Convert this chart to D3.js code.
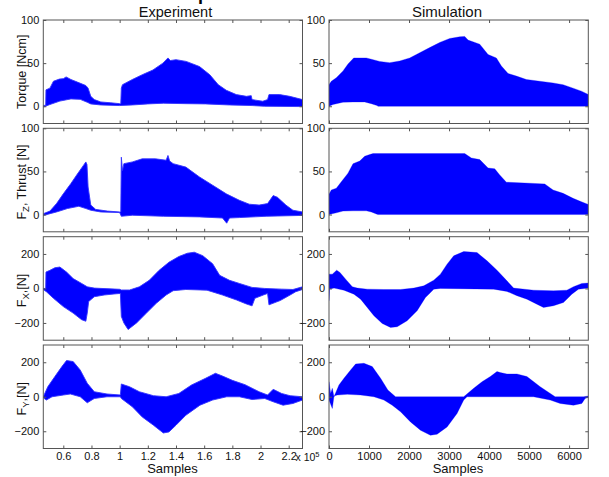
<!DOCTYPE html>
<html>
<head>
<meta charset="utf-8">
<script src="https://cdn.jsdelivr.net/npm/d3@7"></script>
<style>
  body { margin: 0; background: #fff; }
  svg { display: block; }
</style>
</head>
<body>
<script>
// envelope readings, [sample, value]; experiment samples are in units of 1e5

var torqueExpHi = [[0.458,1],[0.475,1],[0.477,19],[0.505,21],[0.53,29],[0.572,31.5],[0.60,32],[0.62,34],[0.654,31],[0.70,28],[0.76,24],[0.776,21],[0.795,11.5],[0.82,7.7],[0.866,5],[0.937,4],[1.0,3],[1.008,3],[1.012,21],[1.02,25],[1.09,31],[1.16,36.5],[1.236,42],[1.307,50],[1.343,56],[1.36,53],[1.40,54],[1.472,52],[1.52,49],[1.567,46],[1.64,36.5],[1.70,25],[1.757,18.5],[1.828,13.5],[1.90,11.5],[1.934,12.3],[1.94,7.7],[2.016,5.8],[2.05,7.7],[2.06,13.5],[2.136,13.5],[2.207,11.5],[2.298,7.7]];
var torqueExpLo = [[0.458,-1],[0.505,2],[0.576,6],[0.654,8.5],[0.72,8],[0.77,4.6],[0.795,2.7],[0.866,1.5],[1.0,0.8],[1.09,1.5],[1.2,2.7],[1.31,3.5],[1.47,3],[1.61,2.7],[1.78,1.5],[1.94,0.8],[2.03,0],[2.298,-0.4]];

var thrustExpHi = [[0.458,1],[0.505,4],[0.552,12.7],[0.60,24],[0.654,36],[0.70,47],[0.743,57],[0.76,61],[0.768,58],[0.776,32],[0.795,11],[0.83,6],[0.913,4],[1.0,3],[1.008,3],[1.012,66.5],[1.02,51],[1.03,59],[1.09,61],[1.16,64.6],[1.254,64.6],[1.33,63],[1.343,68.5],[1.355,62],[1.38,59],[1.47,55],[1.567,43.5],[1.66,34],[1.757,24],[1.85,16.5],[1.92,12],[1.99,11],[2.05,12.7],[2.09,22],[2.12,20],[2.18,11],[2.23,5],[2.298,3]];
var thrustExpLo = [[0.458,-1],[0.552,3],[0.63,7],[0.71,9.6],[0.76,7],[0.795,5],[0.866,3],[1.0,2.3],[1.012,-2],[1.09,-0.8],[1.31,-2],[1.567,-2.7],[1.73,-4],[1.76,-10],[1.78,-4],[1.85,-3.5],[2.04,-2],[2.298,-1]];

var fxExpHi = [[0.458,0],[0.475,0],[0.477,95],[0.505,105],[0.54,120],[0.576,124],[0.623,95],[0.67,57],[0.73,29],[0.77,9.5],[0.82,2],[1.0,-5],[1.012,-9],[1.07,-9],[1.14,9.5],[1.21,47],[1.28,105],[1.35,152],[1.42,185],[1.48,204],[1.53,210],[1.59,190],[1.66,143],[1.71,76],[1.78,47],[1.85,29],[1.94,6],[2.03,0],[2.15,-4],[2.23,-6],[2.298,9.5]];
var fxExpLo = [[0.458,-6],[0.48,-19],[0.53,-57],[0.60,-105],[0.67,-143],[0.73,-181],[0.76,-190],[0.77,-143],[0.78,-76],[0.82,-48],[0.89,-38],[0.96,-32],[1.005,-29],[1.012,-162],[1.03,-200],[1.06,-238],[1.12,-200],[1.19,-143],[1.26,-86],[1.33,-38],[1.38,-13],[1.47,-6],[1.62,-10],[1.73,-38],[1.83,-67],[1.90,-90],[1.94,-101],[1.96,-57],[2.02,-38],[2.05,-29],[2.06,-95],[2.14,-70],[2.21,-38],[2.25,-19],[2.298,-6]];

var fyExpHi = [[0.458,0],[0.49,58],[0.54,117],[0.59,175],[0.623,210],[0.67,204],[0.72,155],[0.77,78],[0.82,29],[0.91,16],[1.005,10],[1.012,74],[1.07,58],[1.14,29],[1.24,6],[1.33,0],[1.42,19],[1.51,68],[1.61,107],[1.68,136],[1.73,120],[1.80,95],[1.89,70],[1.99,29],[2.05,10],[2.09,43],[2.15,19],[2.21,6],[2.298,0]];
var fyExpLo = [[0.458,-6],[0.48,-19],[0.52,0],[0.60,10],[0.65,16],[0.72,0],[0.77,-35],[0.82,-10],[0.91,0],[1.005,0],[1.012,-10],[1.09,-58],[1.16,-117],[1.24,-165],[1.31,-210],[1.35,-204],[1.40,-165],[1.47,-107],[1.57,-49],[1.66,-19],[1.76,0],[1.85,0],[1.94,-16],[2.03,-10],[2.09,-29],[2.16,-49],[2.23,-39],[2.298,-19]];

var torqueSimHi = [[0,25],[58,29],[183,33],[350,41],[475,49],[617,56],[767,56],[933,56],[1058,54.5],[1267,52],[1517,50.5],[1767,52.5],[2017,56],[2267,62],[2517,68],[2767,74],[3017,78.6],[3267,80.5],[3392,81],[3475,76.7],[3767,72],[3975,60],[4183,56],[4308,46.7],[4475,38],[4683,35],[4933,31],[5267,29],[5600,27],[5850,25],[6100,21],[6308,17.5],[6480,13.6]];
var torqueSimLo = [[0,0],[100,2],[350,4.7],[600,5],[892,5],[1058,3],[1200,0.8],[1225,0],[6480,0]];

var thrustSimHi = [[0,23.4],[58,28.5],[183,30.5],[308,38],[475,48],[600,59],[767,62],[892,67.6],[1017,69.5],[1100,70.7],[3392,70.7],[3558,65.6],[3767,63.7],[3975,54],[4142,53],[4267,46],[4433,37.5],[5017,36.3],[5392,35.5],[5600,28.5],[5850,24.6],[6100,18.8],[6308,14.8],[6480,11.7]];
var thrustSimLo = [[0,0],[183,2],[350,4],[600,4.3],[933,4.3],[1058,3],[1200,0.4],[1225,0],[6480,0]];

var fxSimHi = [[0,83],[83,83],[191,106],[274,93],[416,54],[582,10],[707,2],[956,-4],[1372,-6],[1787,-6],[2120,2],[2369,15],[2618,48],[2785,83],[2951,141],[3117,189],[3367,214],[3699,208],[3949,160],[4198,106],[4447,44],[4613,2],[5112,-10],[5611,-14],[5943,-10],[6110,10],[6318,29],[6480,31]];
var fxSimLo = [[0,-71],[15,-4],[125,2],[374,-10],[623,-33],[790,-62],[956,-110],[1122,-158],[1330,-203],[1538,-226],[1704,-222],[1953,-187],[2203,-129],[2411,-52],[2494,-33],[2618,-4],[2785,0],[4115,-4],[4447,-17],[4697,-42],[4946,-62],[5195,-91],[5361,-110],[5611,-100],[5860,-81],[6068,-33],[6234,-4],[6480,2]];

var fySimHi = [[0,87],[42,19],[83,49],[125,0],[249,68],[374,107],[540,155],[665,190],[873,194],[1081,175],[1289,107],[1471,39],[1663,0],[3367,0],[3616,49],[3824,87],[4032,117],[4198,146],[4281,140],[4447,132],[4697,132],[4946,117],[5278,58],[5652,0],[6359,0],[6480,4]];
var fySimLo = [[0,-19],[83,-68],[125,5],[208,10],[457,14],[790,10],[1122,0],[1372,-19],[1580,-49],[1788,-87],[2037,-146],[2286,-194],[2535,-223],[2701,-217],[2951,-175],[3200,-97],[3367,-19],[3450,0],[5112,0],[5528,-19],[5777,-39],[6110,-49],[6318,-39],[6400,-10],[6480,-4]];

var expTicks = [0.6, 0.8, 1, 1.2, 1.4, 1.6, 1.8, 2, 2.2];
var simTicks = [0, 1000, 2000, 3000, 4000, 5000, 6000];
var forceTicks = [-200, 0, 200];
var thrustTicks = [0, 50, 100];

var fontFam = "'Liberation Sans', Arial, Helvetica, sans-serif";
var blue = "#0000ff";
var axisColor = "#555";

var svg = d3.select("body").append("svg")
    .attr("width", 609)
    .attr("height", 477)
    .style("font-family", fontFam);

svg.append("rect").attr("width", 609).attr("height", 477).attr("fill", "#fff");

// columns and rows of the 4x2 grid
var cols = [
  { x0: 43.3, x1: 302.5, domain: [0.458, 2.298], ticks: expTicks, fmt: function(d){ return String(+d.toFixed(1)); }, labelGap: 4 },
  { x0: 329, x1: 588.3, domain: [0, 6480], ticks: simTicks, fmt: d3.format("d"), labelGap: 4 }
];
var rowTops = [20, 128.3, 236.7, 345];
var rowH = 103.5;

var rows = [
  { domain: [-20, 100], ticks: thrustTicks, data: [[torqueExpHi, torqueExpLo], [torqueSimHi, torqueSimLo]] },
  { domain: [-20, 100], ticks: thrustTicks, data: [[thrustExpHi, thrustExpLo], [thrustSimHi, thrustSimLo]] },
  { domain: [-300, 300], ticks: forceTicks, data: [[fxExpHi, fxExpLo], [fxSimHi, fxSimLo]] },
  { domain: [-300, 300], ticks: forceTicks, data: [[fyExpHi, fyExpLo], [fySimHi, fySimLo]] }
];

function styleAxis(g, showLabels) {
  g.select(".domain").remove();
  g.selectAll(".tick line").attr("stroke", axisColor);
  g.selectAll(".tick text")
    .attr("fill", "#111")
    .attr("font-size", "11px")
    .attr("font-family", fontFam)
    .style("display", showLabels ? null : "none");
  g.attr("font-size", null).attr("font-family", null);
}

rows.forEach(function(row, r) {
  cols.forEach(function(col, c) {
    var top = rowTops[r];
    var x = d3.scaleLinear().domain(col.domain).range([col.x0, col.x1]);
    var y = d3.scaleLinear().domain(row.domain).range([top + rowH, top]);

    var clipId = "clip" + r + c;
    svg.append("clipPath").attr("id", clipId)
      .append("rect")
        .attr("x", col.x0).attr("y", top)
        .attr("width", col.x1 - col.x0).attr("height", rowH);

    var hi = row.data[c][0], lo = row.data[c][1];
    var ring = hi.concat(lo.slice().reverse());
    var line = d3.line()
      .x(function(d) { return x(d[0]); })
      .y(function(d) { return y(d[1]); });

    svg.append("path")
      .attr("clip-path", "url(#" + clipId + ")")
      .attr("d", line(ring) + "Z")
      .attr("fill", blue)
      .attr("stroke", c === 0 ? "#3333ff" : blue)
      .attr("stroke-width", c === 0 ? 0.9 : 0.3)
      .attr("stroke-linejoin", "round");

    // ticks, inward on all four sides
    var bottom = svg.append("g")
      .attr("transform", "translate(0," + (top + rowH) + ")")
      .call(d3.axisBottom(x).tickValues(col.ticks).tickFormat(col.fmt)
        .tickSizeInner(-3).tickSizeOuter(0).tickPadding(4));
    styleAxis(bottom, r === 3);

    var topAx = svg.append("g")
      .attr("transform", "translate(0," + top + ")")
      .call(d3.axisTop(x).tickValues(col.ticks).tickSizeInner(-3).tickSizeOuter(0));
    styleAxis(topAx, false);

    var left = svg.append("g")
      .attr("transform", "translate(" + col.x0 + ",0)")
      .call(d3.axisLeft(y).tickValues(row.ticks)
        .tickSizeInner(-3).tickSizeOuter(0).tickPadding(col.labelGap));
    styleAxis(left, true);

    var right = svg.append("g")
      .attr("transform", "translate(" + col.x1 + ",0)")
      .call(d3.axisRight(y).tickValues(row.ticks).tickSizeInner(-3).tickSizeOuter(0));
    styleAxis(right, false);

    svg.append("rect")
      .attr("x", col.x0).attr("y", top)
      .attr("width", col.x1 - col.x0).attr("height", rowH)
      .attr("fill", "none")
      .attr("stroke", axisColor)
      .attr("stroke-width", 1);
  });
});

// fragment of the cut-off figure title above the panels
svg.append("text")
  .attr("x", 198).attr("y", 0)
  .attr("font-size", "18px").attr("font-weight", "bold")
  .attr("fill", "#000")
  .text("p");

// column titles
svg.append("text")
  .attr("x", 175.5).attr("y", 17)
  .attr("text-anchor", "middle").attr("font-size", "14.5px").attr("fill", "#111")
  .text("Experiment");
svg.append("text")
  .attr("x", 447).attr("y", 17)
  .attr("text-anchor", "middle").attr("font-size", "15px").attr("fill", "#111")
  .text("Simulation");

// x axis labels
svg.append("text")
  .attr("x", 172.5).attr("y", 473)
  .attr("text-anchor", "middle").attr("font-size", "13px").attr("fill", "#111")
  .text("Samples");
svg.append("text")
  .attr("x", 458).attr("y", 473)
  .attr("text-anchor", "middle").attr("font-size", "13px").attr("fill", "#111")
  .text("Samples");

// exponent of the experiment sample axis
var expo = svg.append("text")
  .attr("x", 295.5).attr("y", 460.5)
  .attr("font-size", "10.5px").attr("fill", "#111");
expo.append("tspan").text("x 10");
expo.append("tspan").attr("dy", -4).attr("font-size", "7.5px").text("5");

// y axis labels, rotated
function yLabel(cy, parts) {
  var t = svg.append("text")
    .attr("transform", "translate(25.5," + cy + ") rotate(-90)")
    .attr("text-anchor", "middle")
    .attr("font-size", "12.5px")
    .attr("fill", "#111");
  parts.forEach(function(p) {
    var s = t.append("tspan").text(p.t);
    if (p.sub) s.attr("font-size", "9.5px").attr("dy", 3);
    if (p.back) s.attr("dy", -3);
  });
}
yLabel(rowTops[0] + rowH / 2, [{ t: "Torque [Ncm]" }]);
yLabel(rowTops[1] + rowH / 2 + 2, [{ t: "F" }, { t: "Z", sub: true }, { t: ", Thrust [N]", back: true }]);
yLabel(rowTops[2] + rowH / 2 + 2, [{ t: "F" }, { t: "X", sub: true }, { t: ",[N]", back: true }]);
yLabel(rowTops[3] + rowH / 2 + 2, [{ t: "F" }, { t: "Y", sub: true }, { t: ",[N]", back: true }]);
</script>
</body>
</html>
